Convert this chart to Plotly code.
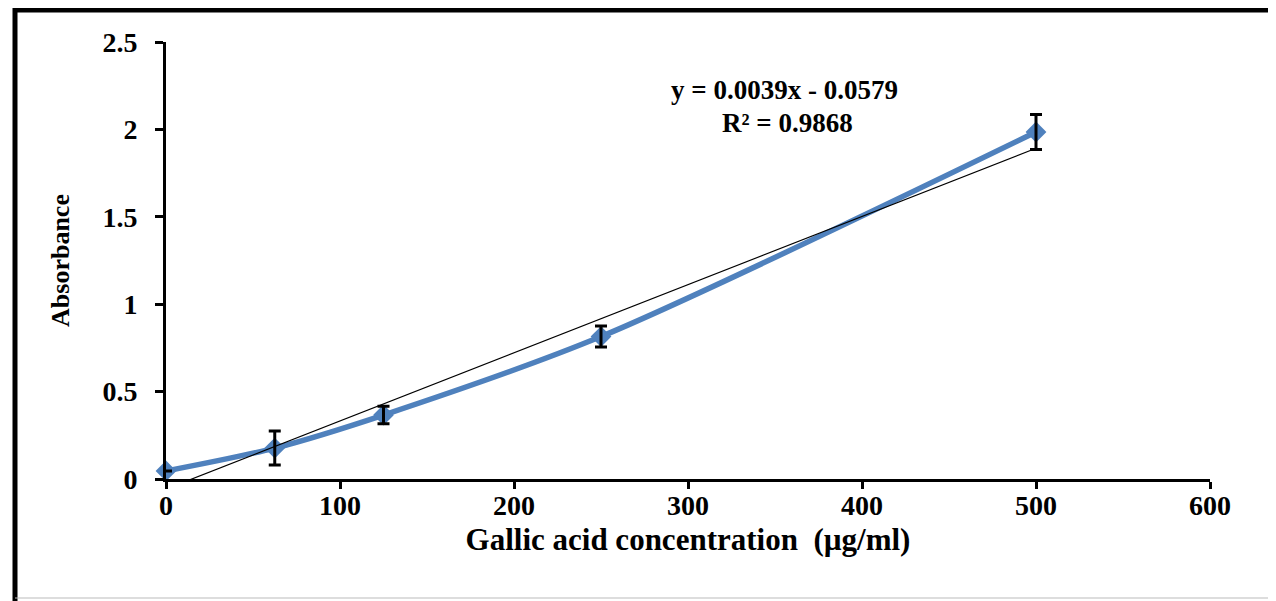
import numpy as np
import plotly.graph_objects as go

# ---- data ----
concentration = [0, 62.5, 125, 250, 500]          # µg/ml
absorbance = [0.046, 0.177, 0.366, 0.815, 1.985]
abs_error = [0.0, 0.097, 0.05, 0.06, 0.10]
trend_slope = 0.0039
trend_intercept = -0.0579
r_squared = 0.9868
x_ticks = [0, 100, 200, 300, 400, 500, 600]
y_ticks = [0, 0.5, 1, 1.5, 2, 2.5]

# ---- layout geometry (page pixels; page body has an 8px margin) ----
OFF = 8
W, H = 1276 - OFF, 601 - OFF
L, R, T, B = 166, 1210, 42, 479   # plot area in page pixels


def px_x(p):
    return (p - L) / (R - L)


def px_y(p):
    return (B - p) / (B - T)


FONT = "Liberation Serif"
BLUE = "#4F81BD"

trend_x = np.linspace(0, 500, 101)
trend_y = trend_slope * trend_x + trend_intercept

fig = go.Figure()

# smoothed data line with diamonds
fig.add_trace(go.Scatter(
    x=concentration, y=absorbance, mode="lines+markers",
    line=dict(color=BLUE, width=5.5, shape="spline", smoothing=0.8),
    marker=dict(symbol="diamond", size=16, color=BLUE),
    cliponaxis=False, showlegend=False, hoverinfo="skip",
))

# linear trendline
fig.add_trace(go.Scatter(
    x=trend_x, y=trend_y, mode="lines",
    line=dict(color="black", width=1.2),
    showlegend=False, hoverinfo="skip",
))

# error bars on top
fig.add_trace(go.Scatter(
    x=concentration, y=absorbance, mode="markers",
    marker=dict(size=1, opacity=0),
    error_y=dict(type="data", array=abs_error, visible=True,
                 color="black", thickness=3, width=6),
    cliponaxis=False, showlegend=False, hoverinfo="skip",
))

sign = "-" if trend_intercept < 0 else "+"
eq_line1 = f"y = {trend_slope:.4f}x {sign} {abs(trend_intercept):.4f}"
eq_line2 = f"R² = {r_squared:.4f}"
eq_font = dict(family=FONT, size=27, color="black", weight="bold")
fig.add_annotation(x=px_x(784), y=px_y(90), xref="paper", yref="paper",
                   xanchor="center", yanchor="middle", borderpad=0,
                   text=eq_line1, showarrow=False, font=eq_font)
fig.add_annotation(x=px_x(787), y=px_y(123), xref="paper", yref="paper",
                   xanchor="center", yanchor="middle", borderpad=0,
                   text=eq_line2, showarrow=False, font=eq_font)

axis_common = dict(
    showgrid=False, zeroline=False, showline=True, linecolor="black",
    linewidth=3, ticks="outside", tickcolor="black", tickwidth=3,
    tickfont=dict(family=FONT, size=28, color="black", weight="bold"),
)

fig.update_xaxes(
    range=[0, 600], tickvals=x_ticks, ticklen=7, ticklabelstandoff=-8,
    title=dict(text="Gallic acid concentration  (µg/ml)", standoff=9,
               font=dict(family=FONT, size=31, color="black", weight="bold")),
    **axis_common,
)
fig.update_yaxes(
    range=[0, 2.5], tickvals=y_ticks, ticklen=8, ticklabelstandoff=12,
    title=dict(text="Absorbance", standoff=26,
               font=dict(family=FONT, size=26, color="black", weight="bold")),
    **axis_common,
)

# outer frame
shapes = [
    dict(type="line", xref="paper", yref="paper",
         x0=px_x(15), x1=px_x(15), y0=px_y(8), y1=px_y(605),
         line=dict(color="black", width=5)),
    dict(type="line", xref="paper", yref="paper",
         x0=px_x(13), x1=px_x(1276), y0=px_y(10), y1=px_y(10),
         line=dict(color="black", width=5)),
    dict(type="line", xref="paper", yref="paper",
         x0=px_x(1274), x1=px_x(1274), y0=px_y(10), y1=px_y(598),
         line=dict(color="#555555", width=1.5)),
    dict(type="line", xref="paper", yref="paper",
         x0=px_x(15), x1=px_x(1274), y0=px_y(598), y1=px_y(598),
         line=dict(color="#bbbbbb", width=1)),
]

fig.update_layout(
    width=W, height=H,
    margin=dict(l=L - OFF, r=W - (R - OFF), t=T - OFF, b=H - (B - OFF)),
    paper_bgcolor="white", plot_bgcolor="white",
    shapes=shapes, showlegend=False,
)

fig.write_html("out.html")
